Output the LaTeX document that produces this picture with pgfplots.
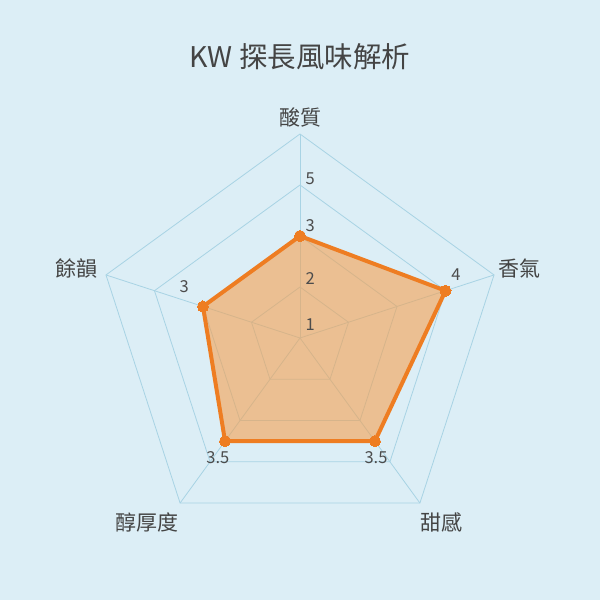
\documentclass[border=0pt]{standalone}
\usepackage{fontspec}
\setmainfont{Noto Sans CJK TC}
\usepackage{pgfplots}
\pgfplotsset{compat=1.18}
\definecolor{bg}{HTML}{DCEEF6}
\definecolor{gridc}{HTML}{A8D3E4}
\definecolor{radarline}{HTML}{EE7D22}
\definecolor{radarfill}{HTML}{F5A050}
\definecolor{txt}{HTML}{444444}
\definecolor{ticktxt}{HTML}{4C4C4C}

\begin{document}
\begin{tikzpicture}[
  gridline/.style={gridc, line width=0.8pt, mark=none},
  ticklab/.style={font=\fontsize{16.5pt}{19pt}\selectfont, text=ticktxt},
  catlab/.style={font=\fontsize{21pt}{25pt}\selectfont, text=txt},
]
\begin{axis}[
  x=51pt, y=51pt,
  xmin=-5.882, xmax=5.882, ymin=-5.137, ymax=6.627,
  axis line style={draw=none},
  xtick=\empty, ytick=\empty,
  axis background/.style={fill=bg},
  clip=false,
  data cs=polar,
]
% pentagon rings (radius in ring units, centre = score 1)
\addplot[gridline] coordinates {(90,1) (18,1) (-54,1) (-126,1) (162,1) (90,1)};
\addplot[gridline] coordinates {(90,2) (18,2) (-54,2) (-126,2) (162,2) (90,2)};
\addplot[gridline] coordinates {(90,3) (18,3) (-54,3) (-126,3) (162,3) (90,3)};
\addplot[gridline] coordinates {(90,4) (18,4) (-54,4) (-126,4) (162,4) (90,4)};
% spokes
\addplot[gridline] coordinates {(90,0) (90,4)};
\addplot[gridline] coordinates {(18,0) (18,4)};
\addplot[gridline] coordinates {(-54,0) (-54,4)};
\addplot[gridline] coordinates {(-126,0) (-126,4)};
\addplot[gridline] coordinates {(162,0) (162,4)};

% scores: 酸質, 香氣, 甜感, 醇厚度, 餘韻
\addplot[draw=radarline, line width=4pt, line join=round,
  fill=radarfill, fill opacity=0.6,
  mark=*, mark size=5.5pt, mark options={fill=radarline, fill opacity=1, draw opacity=1, line width=0pt},
  y filter/.expression={y-1}]
  coordinates {(90,3) (18,4) (-54,3.5) (-126,3.5) (162,3) (90,3)} -- cycle;

% radial tick labels
\node[ticklab] at (axis cs:0.2,0.27) {1};
\node[ticklab] at (axis cs:0.2,1.16) {2};
\node[ticklab] at (axis cs:0.2,3.12) {5};
% value labels
\node[ticklab] at (axis cs:0.2,2.2) {3};
\node[ticklab] at (axis cs:3.06,1.24) {4};
\node[ticklab] at (axis cs:1.49,-2.35) {3.5};
\node[ticklab] at (axis cs:-1.61,-2.35) {3.5};
\node[ticklab] at (axis cs:-2.27,1.0) {3};
% category labels
\node[catlab] at (axis cs:0,4.33) {酸質};
\node[catlab] at (axis cs:4.31,1.36) {香氣};
\node[catlab] at (axis cs:2.78,-3.61) {甜感};
\node[catlab] at (axis cs:-3.0,-3.61) {醇厚度};
\node[catlab] at (axis cs:-4.39,1.36) {餘韻};
% title
\node[font=\fontsize{28.5pt}{34pt}\selectfont, text=txt] at (axis cs:0,5.51) {KW 探長風味解析};
\end{axis}
\end{tikzpicture}
\end{document}
